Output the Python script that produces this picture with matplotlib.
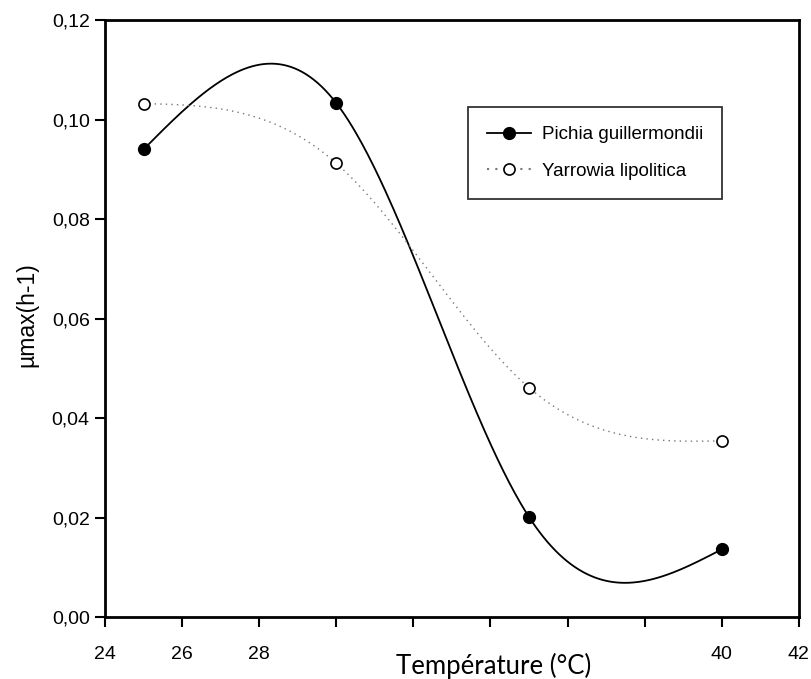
import numpy as np
import matplotlib.pyplot as plt

temp = [25, 30, 35, 40]
pichia = [0.094, 0.1033, 0.0201, 0.0136]
yarrowia = [0.1032, 0.0912, 0.0461, 0.0354]

xticks = [24, 26, 28, 30, 32, 34, 36, 38, 40, 42]
xtick_labels = ['24', '26', '28', '', '', '', '', '', '40', '42']
yticks = [0.00, 0.02, 0.04, 0.06, 0.08, 0.10, 0.12]


def natural_spline(x, y, n=300):
    # natural cubic spline through the points (smooth curve like SigmaPlot)
    x = np.asarray(x, float)
    y = np.asarray(y, float)
    k = len(x)
    h = np.diff(x)
    A = np.zeros((k, k))
    b = np.zeros(k)
    A[0, 0] = 1
    A[-1, -1] = 1
    for i in range(1, k - 1):
        A[i, i - 1] = h[i - 1]
        A[i, i] = 2 * (h[i - 1] + h[i])
        A[i, i + 1] = h[i]
        b[i] = 6 * ((y[i + 1] - y[i]) / h[i] - (y[i] - y[i - 1]) / h[i - 1])
    M = np.linalg.solve(A, b)
    xs = np.linspace(x[0], x[-1], n)
    ys = np.empty_like(xs)
    for j, t in enumerate(xs):
        i = min(np.searchsorted(x, t, side='right') - 1, k - 2)
        a = x[i + 1] - t
        c = t - x[i]
        ys[j] = (M[i] * a**3 + M[i + 1] * c**3) / (6 * h[i]) \
            + (y[i] / h[i] - M[i] * h[i] / 6) * a \
            + (y[i + 1] / h[i] - M[i + 1] * h[i] / 6) * c
    return xs, ys


fig = plt.figure(figsize=(8.11, 6.79), dpi=100)
ax = fig.add_axes([0.1295, 0.0913, 0.8555, 0.8792])

xs, ys = natural_spline(temp, pichia)
ax.plot(xs, ys, color='black', linewidth=1.3)
xs2, ys2 = natural_spline(temp, yarrowia)
ax.plot(xs2, ys2, color='#777777', linewidth=1.0, linestyle=(0, (1, 3)))

ax.plot(temp, pichia, 'o', color='black', markersize=8.5)
ax.plot(temp, yarrowia, 'o', markerfacecolor='white', markeredgecolor='black',
        markeredgewidth=1.2, markersize=8)

# legend proxies
ax.plot([], [], '-o', color='black', markersize=8.5, linewidth=1.3, label='Pichia guillermondii')
ax.plot([], [], 'o', linestyle=(0, (1, 3)), color='#777777', markerfacecolor='white',
        markeredgecolor='black', markeredgewidth=1.2, markersize=8, label='Yarrowia lipolitica')

ax.set_xlim(24, 42)
ax.set_ylim(0, 0.12)
ax.set_xticks(xticks)
ax.set_xticklabels(xtick_labels, family='Liberation Sans', fontsize=14)
ax.set_yticks(yticks)
ax.set_yticklabels([f'{v:.2f}'.replace('.', ',') for v in yticks],
                   family='Liberation Sans', fontsize=14)
ax.tick_params(direction='out', length=7, width=1.5)
ax.tick_params(axis='x', pad=14)
ax.tick_params(axis='y', pad=4)
for s in ax.spines.values():
    s.set_linewidth(2)

fig.text(494 / 811, 1 - 666 / 679, 'Température (°C)', family='Lato', fontsize=18.5,
         ha='center', va='center')
fig.text(27 / 811, 1 - 315 / 679, 'µmax(h-1)', family='Liberation Sans', fontsize=16.5,
         rotation=90, ha='center', va='center')

leg = ax.legend(loc='upper left', bbox_to_anchor=(0.523, 0.854), borderaxespad=0,
                prop={'family': 'Liberation Sans', 'size': 13.5}, frameon=True,
                fancybox=False, edgecolor='black', borderpad=1.0, handlelength=2.35,
                handletextpad=0.6, labelspacing=1.05)
leg.get_frame().set_linewidth(1.3)

fig.savefig('out.png', dpi=100)
